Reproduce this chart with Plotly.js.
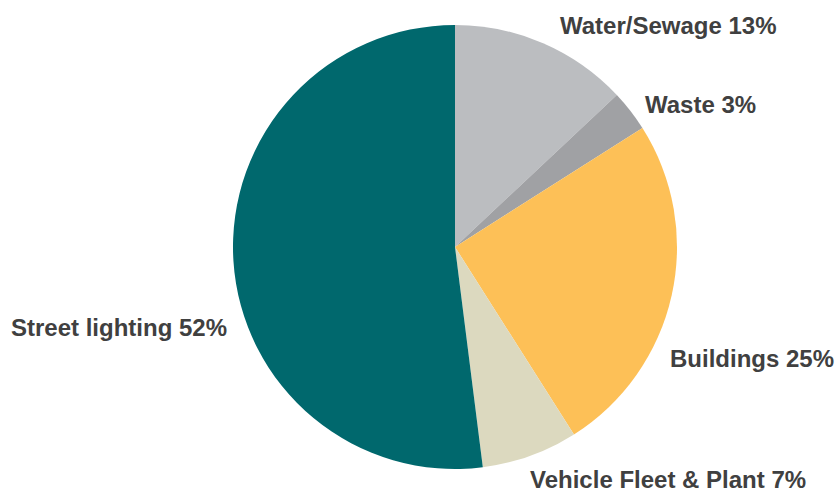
<!DOCTYPE html>
<html>
<head>
<meta charset="utf-8">
<script src="https://cdn.plot.ly/plotly-3.0.1.min.js"></script>
<style>html,body{margin:0;padding:0;background:#fff;}#chart{width:835px;height:494px;}</style>
</head>
<body>
<div id="chart"></div>
<script>
const categories = ["Water/Sewage", "Waste", "Buildings", "Vehicle Fleet & Plant", "Street lighting"];
const shares = [13, 3, 25, 7, 52];
const colors = ["#bbbdc0", "#a0a1a4", "#fdc057", "#dcd9bf", "#00686d"];

// label placement (pixel positions in the 835x494 frame) and anchors
const labelPos = [
  {px: 559, py: 26, anchor: "left"},
  {px: 644, py: 104, anchor: "left"},
  {px: 669, py: 358, anchor: "left"},
  {px: 529, py: 479, anchor: "left"},
  {px: 228, py: 327, anchor: "right"}
];

const W = 835, H = 494;
const annotations = categories.map((c, i) => ({
  text: c + " " + shares[i] + "%",
  xref: "paper", yref: "paper",
  x: labelPos[i].px / W, y: 1 - labelPos[i].py / H,
  xanchor: labelPos[i].anchor, yanchor: "middle",
  showarrow: false,
  borderpad: 0,
  font: {family: "Liberation Sans, Arial, sans-serif", size: 24, color: "#404040", weight: "bold"}
}));

const trace = {
  type: "pie",
  labels: categories,
  values: shares,
  sort: false,
  direction: "clockwise",
  rotation: 0,
  marker: {colors: colors, line: {width: 0}},
  textinfo: "none",
  hoverinfo: "label+percent",
  showlegend: false,
  domain: {x: [233 / W, 677 / W], y: [1 - 469 / H, 1 - 25 / H]}
};

Plotly.newPlot("chart", [trace], {
  width: W, height: H,
  margin: {l: 0, r: 0, t: 0, b: 0},
  paper_bgcolor: "#ffffff",
  showlegend: false,
  annotations: annotations
}, {displayModeBar: false, staticPlot: true});
</script>
</body>
</html>
